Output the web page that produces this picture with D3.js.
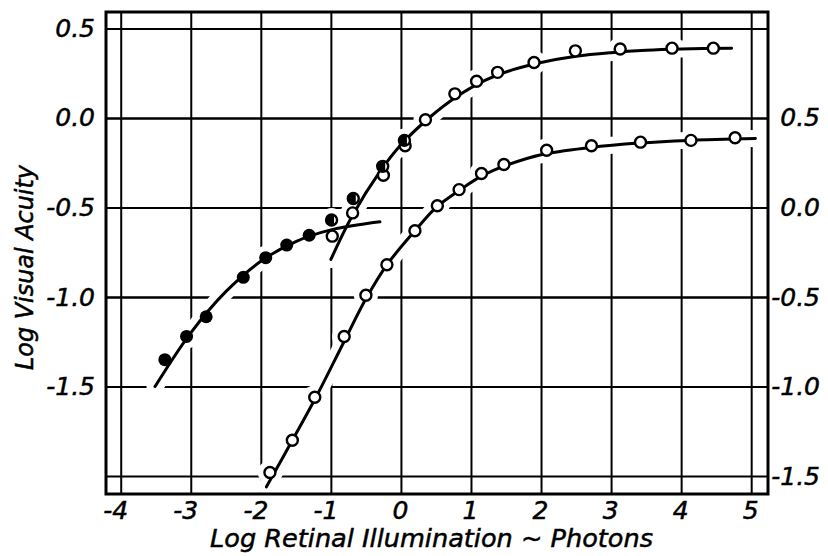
<!DOCTYPE html>
<html>
<head>
<meta charset="utf-8">
<script src="https://cdn.jsdelivr.net/npm/d3@7"></script>
<style>
    body { margin: 0; background: #fff; }
    svg { display: block; }
    .lbl { font-family: "DejaVu Sans", sans-serif; font-style: italic; fill: #000; stroke: #000; stroke-width: 0.5; }
</style>
</head>
<body>
<script>

// tick values for the three axes
var xTicks = [-4, -3, -2, -1, 0, 1, 2, 3, 4, 5];
var leftTicks = [0.5, 0.0, -0.5, -1.0, -1.5];
var rightTicks = [0.5, 0.0, -0.5, -1.0, -1.5];

// filled dots (left axis)
var filledX = [-3.37, -3.06, -2.78, -2.25, -1.93, -1.63, -1.31];
var filledY = [-1.35, -1.22, -1.11, -0.89, -0.78, -0.71, -0.655];

// half filled dots (left axis)
var halfX = [-0.99, -0.68, -0.26, 0.05];
var halfY = [-0.57, -0.45, -0.27, -0.125];

// open circles, upper curve (left axis)
var upperX = [-0.98, -0.69, -0.25, 0.06, 0.35, 0.77, 1.08, 1.38, 1.90, 2.49, 3.13, 3.87, 4.46];
var upperY = [-0.66, -0.53, -0.32, -0.155, -0.01, 0.135, 0.205, 0.255, 0.31, 0.375, 0.385, 0.39, 0.39];

// open circles, lower curve (right axis)
var lowerX = [-1.87, -1.55, -1.23, -0.81, -0.50, -0.20, 0.20, 0.52, 0.83, 1.15, 1.47, 2.08, 2.72, 3.42, 4.14, 4.77];
var lowerY = [-1.48, -1.30, -1.06, -0.72, -0.49, -0.32, -0.13, 0.01, 0.10, 0.19, 0.24, 0.32, 0.345, 0.365, 0.375, 0.39];

// hand drawn fitted curves
var filledCurveX = [-3.51, -3.0, -2.5, -2.0, -1.5, -1.0, -0.3];
var filledCurveY = [-1.50, -1.20, -0.97, -0.80, -0.69, -0.625, -0.58];
var upperCurveX = [-1.0, -0.7, -0.3, 0.0, 0.4, 0.8, 1.2, 1.6, 2.0, 2.5, 3.0, 3.5, 4.0, 4.72];
var upperCurveY = [-0.79, -0.55, -0.30, -0.15, 0.0, 0.12, 0.21, 0.27, 0.31, 0.345, 0.365, 0.378, 0.385, 0.39];
var lowerCurveX = [-1.92, -1.55, -1.2, -0.8, -0.5, -0.2, 0.2, 0.5, 0.85, 1.15, 1.5, 2.0, 2.7, 3.4, 4.1, 5.06];
var lowerCurveY = [-1.56, -1.30, -1.05, -0.74, -0.51, -0.32, -0.13, 0.0, 0.10, 0.175, 0.235, 0.295, 0.335, 0.36, 0.375, 0.385];

window.onload = function() {

    var outerWidth = 828;
    var outerHeight = 556;
    var frame = { left: 106, right: 768, top: 12, bottom: 494 };

    var svg = d3.select("body").append("svg")
        .attr("width", outerWidth)
        .attr("height", outerHeight);

    // scales, right axis is the left one shifted by half a log unit
    var x = d3.scaleLinear().domain([-4.21, 5.24]).range([frame.left, frame.right]);
    var yL = d3.scaleLinear().domain([-2.10, 0.592]).range([frame.bottom, frame.top]);
    var yR = d3.scaleLinear().domain([-1.60, 1.092]).range([frame.bottom, frame.top]);

    var fmt = function(d) { return d.toFixed(1).replace("\u2212", "-"); };

    // x axis with gridlines
    var xAxis = svg.append("g")
        .attr("transform", "translate(0," + frame.bottom + ")")
        .call(d3.axisBottom(x).tickValues(xTicks)
            .tickSize(-(frame.bottom - frame.top)).tickPadding(7)
            .tickFormat(function(d) { return String(d); }));

    // left axis with gridlines
    var leftAxis = svg.append("g")
        .attr("transform", "translate(" + frame.left + ",0)")
        .call(d3.axisLeft(yL).tickValues(leftTicks)
            .tickSize(-(frame.right - frame.left)).tickPadding(11)
            .tickFormat(fmt));

    // right axis with gridlines
    var rightAxis = svg.append("g")
        .attr("transform", "translate(" + frame.right + ",0)")
        .call(d3.axisRight(yR).tickValues(rightTicks)
            .tickSize(-(frame.right - frame.left)).tickPadding(52)
            .tickFormat(fmt));

    [xAxis, leftAxis, rightAxis].forEach(function(g) {
        g.select(".domain").remove();
        g.selectAll(".tick line").attr("stroke", "#000").attr("stroke-width", 2);
        g.selectAll(".tick text")
            .attr("class", "lbl")
            .attr("font-size", 25)
            .attr("fill", "#000");
    });

    xAxis.selectAll(".tick text").attr("text-anchor", "end").attr("dx", 7);
    rightAxis.selectAll(".tick text").attr("text-anchor", "end");

    // line generators
    var lineL = d3.line()
        .x(function(d) { return x(d[0]); })
        .y(function(d) { return yL(d[1]); })
        .curve(d3.curveCatmullRom.alpha(0.5));
    var lineR = d3.line()
        .x(function(d) { return x(d[0]); })
        .y(function(d) { return yR(d[1]); })
        .curve(d3.curveCatmullRom.alpha(0.5));

    var zip = function(a, b) { return a.map(function(v, i) { return [v, b[i]]; }); };

    var curves = [
        { path: lineL(zip(filledCurveX, filledCurveY)) },
        { path: lineL(zip(upperCurveX, upperCurveY)) },
        { path: lineR(zip(lowerCurveX, lowerCurveY)) }
    ];

    var dotsL = zip(filledX, filledY).concat(zip(halfX, halfY), zip(upperX, upperY));
    var dotsR = zip(lowerX, lowerY);

    // white halo so the gridlines break where the curves cross them
    var halo = svg.append("g");
    halo.selectAll("path").data(curves).enter().append("path")
        .attr("d", function(d) { return d.path; })
        .attr("fill", "none").attr("stroke", "#fff")
        .attr("stroke-width", 17).attr("stroke-linecap", "round");
    halo.selectAll("circle.l").data(dotsL).enter().append("circle")
        .attr("cx", function(d) { return x(d[0]); })
        .attr("cy", function(d) { return yL(d[1]); })
        .attr("r", 12).attr("fill", "#fff");
    halo.selectAll("circle.r").data(dotsR).enter().append("circle")
        .attr("cx", function(d) { return x(d[0]); })
        .attr("cy", function(d) { return yR(d[1]); })
        .attr("r", 12).attr("fill", "#fff");

    // frame
    svg.append("rect")
        .attr("x", frame.left).attr("y", frame.top)
        .attr("width", frame.right - frame.left)
        .attr("height", frame.bottom - frame.top)
        .attr("fill", "none").attr("stroke", "#000").attr("stroke-width", 3);

    // curves
    svg.append("g").selectAll("path").data(curves).enter().append("path")
        .attr("d", function(d) { return d.path; })
        .attr("fill", "none").attr("stroke", "#000")
        .attr("stroke-width", 3).attr("stroke-linecap", "round");

    // open circles
    svg.append("g").selectAll("circle").data(zip(upperX, upperY)).enter().append("circle")
        .attr("cx", function(d) { return x(d[0]); })
        .attr("cy", function(d) { return yL(d[1]); })
        .attr("r", 5.5).attr("fill", "#fff").attr("stroke", "#000").attr("stroke-width", 2.4);
    svg.append("g").selectAll("circle").data(dotsR).enter().append("circle")
        .attr("cx", function(d) { return x(d[0]); })
        .attr("cy", function(d) { return yR(d[1]); })
        .attr("r", 5.5).attr("fill", "#fff").attr("stroke", "#000").attr("stroke-width", 2.4);

    // half filled circles
    var half = svg.append("g").selectAll("g").data(zip(halfX, halfY)).enter().append("g")
        .attr("transform", function(d) { return "translate(" + x(d[0]) + "," + yL(d[1]) + ")"; });
    half.append("circle").attr("r", 5.5).attr("fill", "#fff").attr("stroke", "#000").attr("stroke-width", 2.4);
    half.append("path").attr("d", "M0,-5.5A5.5,5.5 0 1,0 2.5,4.9L2.5,-4.9Z").attr("fill", "#000");

    // filled dots
    svg.append("g").selectAll("circle").data(zip(filledX, filledY)).enter().append("circle")
        .attr("cx", function(d) { return x(d[0]); })
        .attr("cy", function(d) { return yL(d[1]); })
        .attr("r", 6.5).attr("fill", "#000");

    // axis titles
    svg.append("text")
        .attr("class", "lbl")
        .attr("x", 210).attr("y", 547)
        .attr("font-size", 25)
        .attr("textLength", 443).attr("lengthAdjust", "spacingAndGlyphs")
        .text("Log Retinal Illumination ~ Photons");

    svg.append("text")
        .attr("class", "lbl")
        .attr("transform", "translate(33,370) rotate(-90)")
        .attr("font-size", 25)
        .attr("textLength", 205).attr("lengthAdjust", "spacingAndGlyphs")
        .text("Log Visual Acuity");
};
</script>
</body>
</html>
